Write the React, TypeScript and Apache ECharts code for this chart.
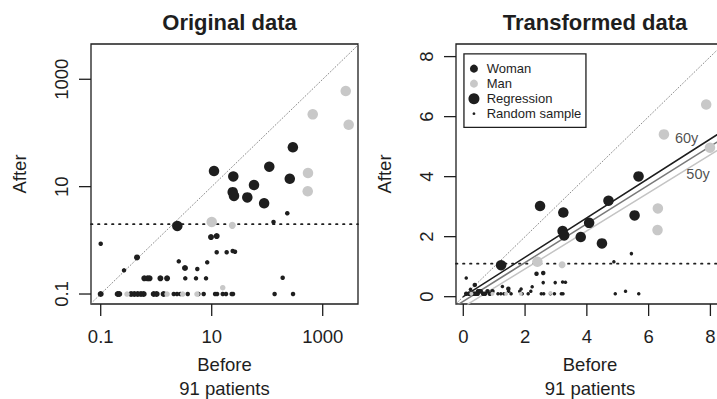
import React, { useEffect, useRef } from 'react';
import * as echarts from 'echarts';

const FONT = '"Liberation Sans", Arial, Helvetica, sans-serif';
const INK = '#1e1e1e';
const GREY_PT = '#c8c8c8';

// Raw values: [before, after]
const regressionWomen: number[][] = [
  [11.0, 19.5], [24.5, 15.5], [290, 54], [109, 23.5], [57.8, 10.7], [23.9, 7.9],
  [25.2, 6.7], [43.8, 6.3], [255, 14], [88, 4.9], [2.4, 1.85],
];
const regressionMen: number[][] = [
  [2600, 603], [661, 222], [2938, 142], [543, 17.9], [537, 8.2], [10, 2.2],
];
const menMid: number[][] = [[23.5, 1.9]];
const menSmall: number[][] = [[0.298, 0.1], [1.57, 0.1], [3.0, 0.1], [5.43, 0.1], [15.8, 0.131]];
const womenMid: number[][] = [
  [0.1, 0.1], [0.202, 0.1], [0.216, 0.1], [0.352, 0.1], [0.403, 0.1], [0.464, 0.1],
  [0.532, 0.1], [0.595, 0.1], [0.902, 0.1], [1.02, 0.1], [1.36, 0.1],
  [0.61, 0.196], [0.7, 0.196], [0.76, 0.196], [1.19, 0.196], [1.57, 0.196],
  [0.451, 0.48], [9.7, 1.15], [12.3, 1.2], [3.3, 0.305],
];
const womenSmall: number[][] = [
  [2.07, 0.1], [2.37, 0.1], [2.72, 0.1], [3.7, 0.1], [5.74, 0.1], [7.17, 0.1],
  [11.5, 0.1], [12.5, 0.1], [15.8, 0.1], [18.1, 0.1], [22.9, 0.1], [24.2, 0.1],
  [136, 0.1], [292, 0.1],
  [3.34, 0.196], [5.21, 0.196], [7.9, 0.196], [190, 0.201],
  [0.263, 0.276], [5.5, 0.292], [2.55, 0.406], [8.3, 0.389],
  [12.3, 0.598], [18.6, 0.598], [23.9, 0.633], [26.3, 0.614],
  [0.1, 0.865], [130, 2.2], [230, 3.2],
];
const threshold = 2;

// tick labels
const logTickValues = [-1, 1, 3];
const logTickLabels = ['0.1', '10', '1000'];
const lnTickValues = [0, 2, 4, 6, 8];
const lnTickLabels = ['0', '2', '4', '6', '8'];

// regression lines (transformed scale), endpoints
const line60y: number[][] = [[0.0, 0.0], [8.6, 5.65]];
const lineMid: number[][] = [[-0.3, -0.348], [8.6, 5.4]];
const line50y: number[][] = [[0.15, -0.248], [8.6, 5.11]];
const lineLabels = [
  { name: '60y', value: [7.23, 5.28] },
  { name: '50y', value: [7.6, 4.09] },
];

const titles = ['Original data', 'Transformed data'];
const legendItems = ['Woman', 'Man', 'Regression', 'Random sample'];

const toLog = (d: number[][]) => d.map(([x, y]) => [Math.log10(x), Math.log10(y)]);
const toLn = (d: number[][]) => d.map(([x, y]) => [Math.log1p(x), Math.log1p(y)]);

const LEFT_X: [number, number] = [-1.175, 3.636];
const LEFT_Y: [number, number] = [-1.186, 3.657];
const RIGHT_X: [number, number] = [-0.236, 8.44];
const RIGHT_Y: [number, number] = [-0.244, 8.42];

export default function App() {
  const ref = useRef<HTMLDivElement>(null);
  useEffect(() => {
    if (!ref.current) return;
    const chart = echarts.init(ref.current, undefined, { renderer: 'svg' });
    const textBase = { fontFamily: FONT, color: INK };
    const axisFont = 18.5;
    const TICK = 12;

    const mkX = (grid: number, [min, max]: number[], vals: number[], labels: string[]) => ({
      gridIndex: grid, type: 'value', min, max, position: 'bottom',
      axisLine: { show: false, onZero: false },
      splitLine: { show: false },
      axisTick: { show: false },
      axisLabel: {
        show: true, customValues: vals, margin: 23,
        formatter: (v: number) => labels[vals.indexOf(Math.round(v))] ?? '',
        fontSize: axisFont, ...textBase,
      },
      name: 'Before\n91 patients', nameLocation: 'middle', nameGap: 49,
      nameTextStyle: { fontSize: axisFont, lineHeight: 23.5, ...textBase },
    });
    const mkY = (grid: number, [min, max]: number[], vals: number[], labels: string[]) => ({
      gridIndex: grid, type: 'value', min, max, position: 'left',
      axisLine: { show: false, onZero: false },
      splitLine: { show: false },
      axisTick: { show: false },
      axisLabel: {
        show: true, customValues: vals, margin: 20, rotate: 90,
        formatter: (v: number) => labels[vals.indexOf(Math.round(v))] ?? '',
        fontSize: axisFont, ...textBase,
      },
      name: 'After', nameLocation: 'middle', nameGap: 62,
      nameTextStyle: { fontSize: axisFont, ...textBase },
    });

    const pts = (name: string, data: number[][], xi: number, color: string, size: number) => ({
      type: 'scatter', name, xAxisIndex: xi, yAxisIndex: xi, data,
      symbol: 'circle', symbolSize: size, itemStyle: { color, opacity: 1 }, z: 5,
      emphasis: { disabled: true },
    });
    const ln = (data: number[][], xi: number, color: string, width: number, type: any, z = 2) => ({
      type: 'line', xAxisIndex: xi, yAxisIndex: xi, data, symbol: 'none', clip: true,
      lineStyle: { color, width, type, cap: 'round' }, z, silent: true,
    });

    chart.setOption({
      animation: false,
      title: [
        { text: titles[0], left: 224.5, top: 6, textAlign: 'center', textStyle: { fontSize: 22, fontWeight: 'bold', ...textBase } },
        { text: titles[1], left: 590, top: 6, textAlign: 'center', textStyle: { fontSize: 22, fontWeight: 'bold', ...textBase } },
      ],
      grid: [
        { left: 91, top: 44, width: 267, height: 260, show: true, borderColor: INK, borderWidth: 1.3, containLabel: false, outerBoundsMode: 'none' },
        { left: 456, top: 44, width: 268, height: 260, show: true, borderColor: INK, borderWidth: 1.3, containLabel: false, outerBoundsMode: 'none' },
      ],
      xAxis: [
        mkX(0, LEFT_X, logTickValues, logTickLabels),
        mkX(1, RIGHT_X, lnTickValues, lnTickLabels),
      ],
      yAxis: [
        mkY(0, LEFT_Y, logTickValues, logTickLabels),
        mkY(1, RIGHT_Y, lnTickValues, lnTickLabels),
      ],
      series: [
        // left panel reference lines
        ln([[-2, -2], [4, 4]], 0, '#8c8c8c', 1, [1, 2.2]),
        ln([[LEFT_X[0], Math.log10(threshold)], [LEFT_X[1], Math.log10(threshold)]], 0, INK, 1.7, [1.5, 5.5]),
        // right panel reference lines
        ln([[-1, -1], [9, 9]], 1, '#8c8c8c', 1, [1, 2.2]),
        ln([[RIGHT_X[0], Math.log1p(threshold)], [RIGHT_X[1], Math.log1p(threshold)]], 1, INK, 1.7, [1.5, 5.5]),
        ln(line50y, 1, '#c4c4c4', 1.5, 'solid'),
        ln(lineMid, 1, '#7a7a7a', 1.5, 'solid'),
        ln(line60y, 1, INK, 1.5, 'solid'),
        // left points
        pts('w-small', toLog(womenSmall), 0, INK, 4.5),
        pts('w-mid', toLog(womenMid), 0, INK, 6),
        pts('m-small', toLog(menSmall), 0, GREY_PT, 5.5),
        pts('m-mid', toLog(menMid), 0, GREY_PT, 7),
        pts('w-reg', toLog(regressionWomen), 0, INK, 10.5),
        pts('m-reg', toLog(regressionMen), 0, GREY_PT, 10.5),
        // right points
        pts('w-small', toLn(womenSmall), 1, INK, 3.5),
        pts('w-mid', toLn(womenMid), 1, INK, 4.5),
        pts('m-small', toLn(menSmall), 1, GREY_PT, 4),
        pts('m-mid', toLn(menMid), 1, GREY_PT, 7),
        pts('w-reg', toLn(regressionWomen), 1, INK, 10.5),
        pts('m-reg', toLn(regressionMen), 1, GREY_PT, 10.5),
        {
          type: 'scatter', xAxisIndex: 1, yAxisIndex: 1, data: lineLabels, symbolSize: 0, z: 6,
          label: { show: true, position: 'inside', formatter: '{b}', fontSize: 14.5, ...textBase },
          silent: true,
        },
      ],
    });

    // outward tick marks, placed through the axes' own scales
    const tickLines: any[] = [];
    const addTicks = (gi: number, xVals: number[], yVals: number[], xr: number[], yr: number[]) => {
      const bottom = chart.convertToPixel({ gridIndex: gi } as any, [xr[0], yr[0]]) as number[];
      xVals.forEach((v) => {
        const p = chart.convertToPixel({ gridIndex: gi } as any, [v, yr[0]]) as number[];
        tickLines.push({
          type: 'line', silent: true, z: 20,
          shape: { x1: p[0], y1: bottom[1], x2: p[0], y2: bottom[1] + TICK },
          style: { stroke: INK, lineWidth: 1.3 },
        });
      });
      yVals.forEach((v) => {
        const p = chart.convertToPixel({ gridIndex: gi } as any, [xr[0], v]) as number[];
        tickLines.push({
          type: 'line', silent: true, z: 20,
          shape: { x1: bottom[0], y1: p[1], x2: bottom[0] - TICK, y2: p[1] },
          style: { stroke: INK, lineWidth: 1.3 },
        });
      });
    };
    addTicks(0, logTickValues, logTickValues, LEFT_X, LEFT_Y);
    addTicks(1, lnTickValues, lnTickValues, RIGHT_X, RIGHT_Y);

    const lgX = 463.3, lgY = 53.3;
    chart.setOption({
      graphic: [
        ...tickLines,
        {
          type: 'group', left: lgX, top: lgY, silent: true,
          children: [
            { type: 'rect', shape: { x: 0, y: 0, width: 122, height: 73.4 }, style: { fill: '#fff', stroke: INK, lineWidth: 1.3 } },
            { type: 'circle', shape: { cx: 10, cy: 14.7, r: 4 }, style: { fill: INK } },
            { type: 'circle', shape: { cx: 10, cy: 29.7, r: 4 }, style: { fill: GREY_PT } },
            { type: 'circle', shape: { cx: 10, cy: 44.7, r: 5.5 }, style: { fill: INK } },
            { type: 'circle', shape: { cx: 10, cy: 59.7, r: 1.4 }, style: { fill: INK } },
            ...legendItems.map((t, i) => ({
              type: 'text', x: 22.7, y: 14.7 + i * 15,
              style: { text: t, fontSize: 13, fontFamily: FONT, fill: INK, verticalAlign: 'middle', align: 'left' },
            })),
          ],
        },
      ],
    });
    return () => chart.dispose();
  }, []);
  return <div ref={ref} style={{ width: 717, height: 399, position: 'absolute', left: 0, top: 0 }} />;
}
